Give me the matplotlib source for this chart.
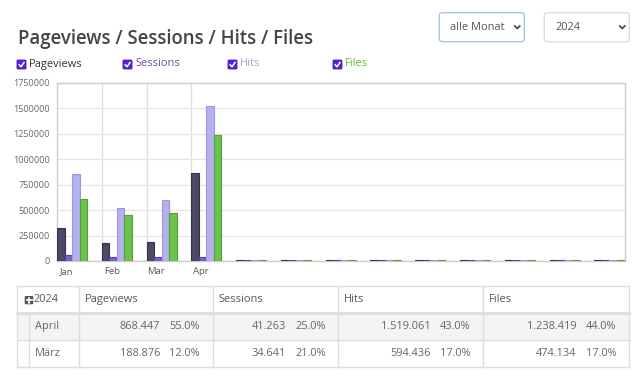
import matplotlib
matplotlib.use("Agg")
import matplotlib.pyplot as plt
from matplotlib.patches import Rectangle, FancyBboxPatch
from matplotlib.lines import Line2D
import numpy as np

plt.rcParams['font.family'] = ['Open Sans', 'DejaVu Sans']

W, H = 640, 377

# chart data (13 slots, only Jan-Apr labelled)
months = ["Jan", "Feb", "Mar", "Apr"]
pageviews = [322000, 180000, 188876, 868447, 7000, 7000, 7000, 7000, 7000, 7000, 7000, 7000, 7000]
sessions = [56000, 42000, 34641, 41263, 7000, 7000, 7000, 7000, 7000, 7000, 7000, 7000, 7000]
hits = [857000, 519000, 594436, 1519061, 7000, 7000, 7000, 7000, 7000, 7000, 7000, 7000, 7000]
files = [611000, 456000, 474134, 1238419, 7000, 7000, 7000, 7000, 7000, 7000, 7000, 7000, 7000]

series_names = ["Pageviews", "Sessions", "Hits", "Files"]
fill_colors = ["#4e4968", "#7c62c6", "#b4b1ec", "#6cc24a"]
edge_colors = ["#36324c", "#5a40a8", "#9c98e0", "#4fa232"]
label_colors = ["#333333", "#6a4fa8", "#a8a3da", "#5cb83a"]

# table data
table_year = "2024"
table_cols = ["Pageviews", "Sessions", "Hits", "Files"]
table_rows = ["April", "März"]
table_vals = [["868.447", "41.263", "1.519.061", "1.238.419"],
              ["188.876", "34.641", "594.436", "474.134"]]
table_pcts = [["55.0%", "25.0%", "43.0%", "44.0%"],
              ["12.0%", "21.0%", "17.0%", "17.0%"]]

fig = plt.figure(figsize=(6.4, 3.77), dpi=100)
fig.patch.set_facecolor("white")


def fx(x):
    return x / W


def fy(y):
    return 1 - y / H


def pt(px):
    return px * 0.72


def hline(x0, x1, y, color="#dddddd", lw=1.0):
    fig.add_artist(Line2D([fx(x0), fx(x1)], [fy(y), fy(y)], color=color, lw=lw))


def vline(x, y0, y1, color="#dddddd", lw=1.0):
    fig.add_artist(Line2D([fx(x), fx(x)], [fy(y0), fy(y1)], color=color, lw=lw))


# title
fig.text(fx(18), fy(44), "Pageviews / Sessions / Hits / Files", fontsize=pt(18.7),
         fontweight="semibold", color="#454545", va="baseline", ha="left")

# dropdowns
def dropdown(x0, x1, text, border):
    fig.add_artist(FancyBboxPatch((fx(x0), fy(41.7)), fx(x1 - x0), (41.7 - 12.7) / H,
                                  boxstyle="round,pad=0,rounding_size=0.006",
                                  transform=fig.transFigure, facecolor="white",
                                  edgecolor=border, lw=1.0))
    fig.text(fx(x0 + 11), fy(27.5), text, fontsize=pt(11), color="#555555",
             va="center", ha="left")
    cx = x1 - 7
    fig.add_artist(Line2D([fx(cx - 2.5), fx(cx), fx(cx + 2.5)],
                          [fy(26), fy(28.5), fy(26)], color="#444444", lw=1.2))


dropdown(439.3, 524.3, "alle Monat", "#a8c4ee")
dropdown(544.3, 629.3, "2024", "#dedede")
# hide the clipped end of the first dropdown text
fig.add_artist(Rectangle((fx(503), fy(36)), fx(9), 17 / H, transform=fig.transFigure,
                         facecolor="white", edgecolor="none"))

# checkbox legend
legend_x = [17, 123, 228, 333]
for lx, name, col in zip(legend_x, series_names, label_colors):
    fig.add_artist(FancyBboxPatch((fx(lx), fy(69)), fx(9), 9 / H,
                                  boxstyle="round,pad=0,rounding_size=0.002",
                                  transform=fig.transFigure, facecolor="#5b1fd6",
                                  edgecolor="#4a14b8", lw=0.6))
    fig.add_artist(Line2D([fx(lx + 2.2), fx(lx + 4), fx(lx + 7)],
                          [fy(64.8), fy(66.8), fy(62.5)], color="white", lw=1.1))
    fig.text(fx(lx + 12), fy(64), name, fontsize=pt(11), color=col,
             va="center", ha="left")

# chart
ax = fig.add_axes([fx(57), fy(261), fx(624.5 - 57), (261 - 82.7) / H])
n = len(pageviews)
bw = 0.168
x = np.arange(n)
for k, vals in enumerate([pageviews, sessions, hits, files]):
    ax.bar(x + k * bw, vals, width=bw, align="edge", color=fill_colors[k],
           edgecolor=edge_colors[k], linewidth=0.8, zorder=3)

ax.set_xlim(0, n - 1 + 4 * bw)
ax.set_ylim(0, 1750000)
ax.set_yticks(np.arange(0, 1750001, 250000))
ax.set_yticklabels([str(v) for v in range(0, 1750001, 250000)])
ax.tick_params(axis="y", length=0, labelsize=pt(9), labelcolor="#666666", pad=5)
ax.set_xticks([])
ax.grid(axis="y", color="#e6e6e6", lw=0.9, zorder=0)
for i in range(1, len(months)):
    ax.axvline(i, color="#dddddd", lw=0.9, zorder=0)
for i, m in enumerate(months):
    ax.text(i + 0.22, -0.035, m, transform=ax.get_xaxis_transform(), ha="center",
            va="top", fontsize=pt(9.5), color="#555555")
for side in ["top", "right", "left", "bottom"]:
    ax.spines[side].set_color("#cccccc")
    ax.spines[side].set_linewidth(1.0)

# table
tx0, tx1 = 17.3, 629.3
col_edges = [79.3, 212.7, 338.3, 483.3, 629.3]
ty = [286, 312.5, 340.3, 367.3]

fig.add_artist(Rectangle((fx(tx0), fy(ty[2])), fx(tx1 - tx0), (ty[2] - ty[1]) / H,
                         transform=fig.transFigure, facecolor="#f4f4f4", edgecolor="none"))
hline(tx0, tx1, ty[0])
hline(tx0, tx1, ty[1], lw=2.0)
hline(tx0, tx1, ty[2])
hline(tx0, tx1, ty[3])
vline(tx0, ty[0], ty[3])
vline(29.3, ty[1], ty[3])
for ce in col_edges:
    vline(ce, ty[0], ty[3])

# header
fig.add_artist(FancyBboxPatch((fx(24.7), fy(304.3)), fx(8.6), 8.3 / H,
                              boxstyle="round,pad=0,rounding_size=0.002",
                              transform=fig.transFigure, facecolor="#555555",
                              edgecolor="none"))
hline(26.5, 31.5, 300.2, color="white", lw=1.2)
vline(29.0, 297.7, 302.7, color="white", lw=1.2)
fig.text(fx(34), fy(299.5), table_year, fontsize=pt(11), color="#555555",
         va="center", ha="left")
col_starts = [79.3, 212.7, 338.3, 483.3]
for cs, name in zip(col_starts, table_cols):
    fig.text(fx(cs + 6), fy(299.5), name, fontsize=pt(11), color="#555555",
             va="center", ha="left")

row_y = [326.3, 353.5]
for r, (lab, vals, pcts) in enumerate(zip(table_rows, table_vals, table_pcts)):
    fig.text(fx(35), fy(row_y[r]), lab, fontsize=pt(11), color="#666666",
             va="center", ha="left")
    for c in range(4):
        right = col_edges[c + 1] - 12.6
        fig.text(fx(right), fy(row_y[r]), pcts[c], fontsize=pt(11), color="#666666",
                 va="center", ha="right")
        fig.text(fx(right - 40), fy(row_y[r]), vals[c], fontsize=pt(11), color="#666666",
                 va="center", ha="right")

fig.savefig("out.png", dpi=100)
